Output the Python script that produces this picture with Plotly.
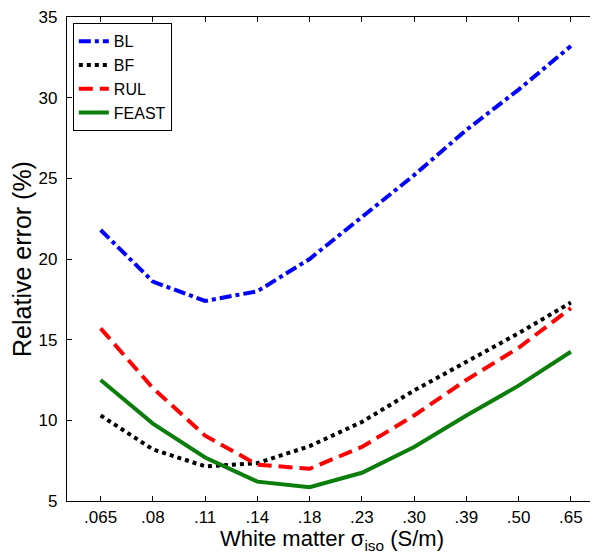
import plotly.graph_objects as go

# =============== data
sigma_labels = ['.065', '.08', '.11', '.14', '.18', '.23', '.30', '.39', '.50', '.65']
bl_err = [21.8, 18.6, 17.4, 18.0, 20.0, 22.6, 25.2, 28.0, 30.5, 33.2]
bf_err = [10.3, 8.2, 7.15, 7.35, 8.4, 9.9, 11.85, 13.6, 15.4, 17.3]
rul_err = [15.7, 12.0, 9.05, 7.25, 7.0, 8.35, 10.3, 12.5, 14.5, 16.95]
feast_err = [12.5, 9.8, 7.7, 6.2, 5.85, 6.75, 8.35, 10.3, 12.15, 14.25]

fontFam = 'Liberation Sans, Arial, sans-serif'

series = [
    ('BL', bl_err, '#0000ff', '12px,4px,4px,4px'),
    ('BF', bf_err, '#000000', '4px,4px'),
    ('RUL', rul_err, '#ff0000', '14px,7px'),
    ('FEAST', feast_err, '#0a7d0a', 'solid'),
]

fig = go.Figure()
for name, vals, col, dsh in series:
    fig.add_trace(go.Scatter(x = sigma_labels, y = vals, mode = 'lines', name = name,
        line = dict(color = col, width = 4, dash = dsh)))

axis_style = dict(ticks = 'inside', ticklen = 5, tickcolor = 'black', showline = True,
    linecolor = 'black', linewidth = 1.2, mirror = 'ticks', showgrid = False, zeroline = False,
    tickfont = dict(size = 17, color = 'black'), ticklabeloverflow = 'allow')

fig.update_xaxes(type = 'category', range = [-0.644, 9.5], ticklabelstandoff = 0, **axis_style,
    title = dict(text = 'White matter σ<sub>iso</sub> (S/m)', font = dict(size = 22, color = 'black'), standoff = 0))
fig.update_yaxes(range = [5, 35], dtick = 5, ticklabelstandoff = 5, **axis_style,
    title = dict(text = 'Relative error (%)', font = dict(size = 25, color = 'black'), standoff = 6))

# page body has an 8px margin, so the figure is a bit smaller than the window
fig.update_layout(width = 590, height = 549, margin = dict(l = 59, r = 1, t = 9, b = 56),
    plot_bgcolor = 'white', paper_bgcolor = 'white', font = dict(family = fontFam, color = 'black'),
    legend = dict(x = 0.011, y = 0.987, xanchor = 'left', yanchor = 'top', bgcolor = 'white',
        bordercolor = 'black', borderwidth = 1, font = dict(size = 16), tracegroupgap = 0))

fig.write_html("out.html")
